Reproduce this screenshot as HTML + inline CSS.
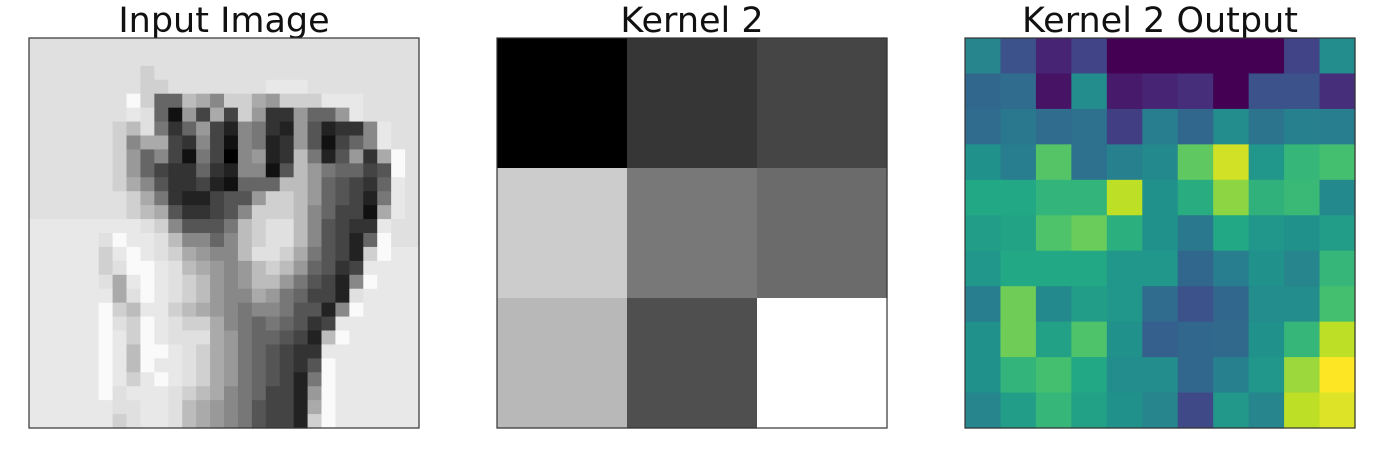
<!DOCTYPE html>
<html><head><meta charset="utf-8">
<style>
html,body{margin:0;padding:0;background:#fff;}
body{width:1384px;height:455px;overflow:hidden;position:relative;font-family:"DejaVu Sans","Liberation Sans",sans-serif;}
</style></head>
<body>
<svg id="chart" width="1384" height="455" xmlns="http://www.w3.org/2000/svg">
<g font-family="DejaVu Sans, Liberation Sans, sans-serif" font-size="35" fill="#111" text-anchor="middle">
<text x="224" y="32">Input Image</text>
<text x="692" y="32">Kernel 2</text>
<text x="1160" y="32">Kernel 2 Output</text>
</g>
<g id="p0"></g>
<g id="p1"></g>
<g id="p2"></g>
</svg>
<script>
const inputRows = [
"dddddddddddddddddddddddddddd",
"dddddddddddddddddddddddddddd",
"ddddddddcddddddddddddddddddd",
"ddddddddccdddddddeeedddddddd",
"ddddddd"+"fc66ba8cca9ccceee"+"ddddd",
"ddddddd"+"ed6194a4c9339669e"+"dddd",
"dddddd"+"cbd7369428732952338e"+"ddd",
"dddddd"+"c8aa438418723951468e"+"dd",
"dddddd"+"c968417408923b72593af"+"d",
"dddddd"+"c964336328815b976645f"+"d",
"dddddd"+"ca8533421666bb965436e"+"d",
"dddddd"+"dca732245 59ccb965427e".replace(" ","")+"d",
"dddddd"+"dcba533458cccb86441ae"+"d",
"eeeeee"+"eedc85557bcddb85433e"+"dd",
"eeeee"+"dfeedb8868bcddb85426f"+"dd",
"eeeee"+"cefedca988bddca7542cf"+"ee",
"eeeee"+"cdffedba989bcb96534e"+"eee",
"eeeee"+"daefedcb989bb975428f"+"eee",
"eeeee"+"eadfedcb988a976442d"+"eeee",
"eeeee"+"fcbeecba9878875528f"+"eeee",
"eeeee"+"fdcfedcca87676534e"+"eeeee",
"eeeee"+"fecfeddda9766542bf"+"eeeee",
"eeeee"+"febffedca9765433e"+"eeeeee",
"eeeee"+"febfeedca9765435f"+"eeeeee",
"eeeee"+"fecefedca9765427f"+"eeeeee",
"eeeee"+"fdeeedcba8764429f"+"eeeeee",
"eeeeee"+"ddeedba9875442af"+"eeeeee",
"eeeeee"+"cdeedba9875442cf"+"eeeeee"
];
const kernelValues = [[0.0,0.21,0.27],[0.80,0.47,0.42],[0.72,0.31,1.0]];
const outputValues = [
[0.45,0.25,0.10,0.20,0.0,0.0,0.0,0.0,0.0,0.20,0.48],
[0.33,0.35,0.05,0.48,0.07,0.10,0.13,0.0,0.25,0.25,0.13],
[0.35,0.40,0.35,0.37,0.18,0.42,0.33,0.48,0.38,0.43,0.42],
[0.50,0.42,0.73,0.37,0.43,0.47,0.75,0.93,0.52,0.66,0.70],
[0.60,0.60,0.65,0.65,0.90,0.50,0.62,0.83,0.64,0.67,0.47],
[0.55,0.58,0.72,0.77,0.63,0.50,0.40,0.60,0.52,0.50,0.55],
[0.52,0.60,0.60,0.60,0.52,0.52,0.33,0.42,0.50,0.45,0.66],
[0.42,0.78,0.47,0.55,0.52,0.35,0.25,0.33,0.48,0.48,0.70],
[0.50,0.78,0.57,0.72,0.50,0.30,0.33,0.34,0.50,0.66,0.90],
[0.50,0.65,0.70,0.60,0.48,0.48,0.33,0.43,0.52,0.85,1.0],
[0.45,0.55,0.66,0.57,0.50,0.45,0.22,0.53,0.45,0.90,0.95]
];
const grayLevels = {"f":250,"e":232,"d":224,"c":208,"b":188};
const VIR=["#440154","#482475","#414487","#355f8d","#2a788e","#21918c","#22a884","#44bf70","#7ad151","#bddf26","#fde725"];
function hx(c){return [1,3,5].map(i=>parseInt(c.substr(i,2),16));}
function viridis(t){t=Math.max(0,Math.min(1,t));const s=t*10,i=Math.min(9,Math.floor(s)),f=s-i;
 const a=hx(VIR[i]),b=hx(VIR[i+1]);return "rgb("+a.map((v,k)=>Math.round(v+(b[k]-v)*f)).join(",")+")";}
function gray(t){const g=Math.round(t*255);return "rgb("+g+","+g+","+g+")";}
const NS="http://www.w3.org/2000/svg";
const AX=[29,497,965], AY=38, AS=390;
function drawGrid(gid,x0,grid,colorFn,name){
 const g=document.getElementById(gid);const n=grid.length;const cs=AS/n;
 const xs=c=>x0+c*cs, ys=r=>AY+r*cs;
 for(let r=0;r<n;r++)for(let c=0;c<grid[r].length;c++){
  const rc=document.createElementNS(NS,"rect");
  rc.setAttribute("x",xs(c));rc.setAttribute("y",ys(r));
  rc.setAttribute("width",cs+0.6);rc.setAttribute("height",cs+0.6);
  rc.setAttribute("fill",colorFn(grid[r][c]));
  
  
  g.appendChild(rc);}
 const b=document.createElementNS(NS,"rect");
 b.setAttribute("x",x0);b.setAttribute("y",AY);b.setAttribute("width",AS);b.setAttribute("height",AS);
 b.setAttribute("fill","none");b.setAttribute("stroke","#333");b.setAttribute("stroke-width","1.2");
 
 
 g.appendChild(b);
}
const inputGrid=inputRows.map(r=>{r=(r+"eeeeeeeeeeeeeeeeeeeeeeeeeeee").slice(0,28);
 return r.split("").map(ch=>(grayLevels[ch]!==undefined?grayLevels[ch]:parseInt(ch,16)*17)/255);});
drawGrid("p0",AX[0],inputGrid,gray,"input-pixel");
drawGrid("p1",AX[1],kernelValues,gray,"kernel-cell");
drawGrid("p2",AX[2],outputValues,viridis,"output-cell");
</script>
</body></html>
